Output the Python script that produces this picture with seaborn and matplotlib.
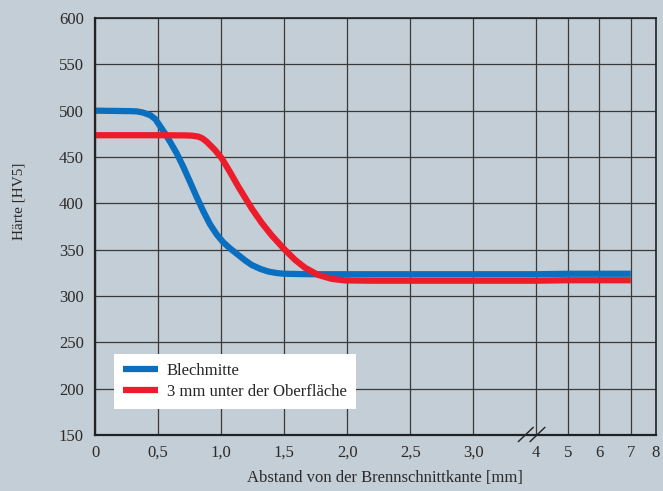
import numpy as np
import pandas as pd
import matplotlib
matplotlib.use("Agg")
import matplotlib.pyplot as plt
import seaborn as sns

# ---- data ----
blue_label = "Blechmitte"
blue_x = [0, 0.28, 0.33, 0.38, 0.44, 0.48, 0.515, 0.555, 0.595, 0.648, 0.70, 0.753,
          0.806, 0.859, 0.912, 0.965, 1.017, 1.07, 1.137, 1.19, 1.243, 1.31, 1.374,
          1.44, 1.5, 1.7, 2.0, 3.0, 4, 5, 6, 7]
blue_y = [500, 499.5, 499.2, 498, 495, 490.7, 483.5, 475.6, 466.5, 454, 439.5, 423.4,
          407, 391.5, 377.5, 366.5, 358, 351.5, 344.2, 338.5, 333.5, 329.3, 326.4,
          324.8, 324, 323.5, 323.5, 323.5, 323.5, 324, 324, 324]

red_label = "3 mm unter der Oberfläche"
red_x = [0, 0.5, 0.72, 0.77, 0.82, 0.853, 0.886, 0.952, 1.005, 1.07, 1.137, 1.2,
         1.243, 1.322, 1.401, 1.5, 1.587, 1.665, 1.771, 1.877, 1.983, 2.2, 3.0,
         4, 5, 6, 7]
red_y = [473.5, 473.5, 473.3, 473, 472, 470, 466.5, 457.5, 448.6, 434, 418, 404,
         394.5, 379, 365.5, 350.7, 339, 330.6, 322.7, 318.5, 316.8, 316.5, 316.5,
         316.5, 317, 317, 317]

x_ticks = [0, 0.5, 1.0, 1.5, 2.0, 2.5, 3.0, 4, 5, 6, 7, 8]
x_ticklabels = ["0", "0,5", "1,0", "1,5", "2,0", "2,5", "3,0", "4", "5", "6", "7", "8"]
y_ticks = [150, 200, 250, 300, 350, 400, 450, 500, 550, 600]

x_title = "Abstand von der Brennschnittkante [mm]"
y_title = "Härte [HV5]"

# broken axis: real mm -> drawing units
brk_real = [0, 3, 4, 7, 8]
brk_unit = [0, 3, 3.5, 4.25, 4.45]

def fwd(v):
    return np.interp(v, brk_real, brk_unit)

def inv(v):
    return np.interp(v, brk_unit, brk_real)

df = pd.concat([
    pd.DataFrame({"x": blue_x, "y": blue_y, "Serie": blue_label}),
    pd.DataFrame({"x": red_x, "y": red_y, "Serie": red_label}),
], ignore_index=True)

sns.set_style("white")
plt.rcParams["font.family"] = ["Liberation Serif", "DejaVu Serif"]

bg = "#c4ced6"
fig = plt.figure(figsize=(6.63, 4.91), dpi=100, facecolor=bg)
ax = fig.add_axes([95 / 663, 56 / 491, 561 / 663, 417 / 491])
ax.set_facecolor(bg)
ax.set_xscale("function", functions=(fwd, inv))

sns.lineplot(data=df, x="x", y="y", hue="Serie", sort=False, estimator=None,
             palette={blue_label: "#0a6fbf", red_label: "#ec1c2a"},
             linewidth=4.5, ax=ax, solid_capstyle="butt", solid_joinstyle="round")

ax.set_xlim(0, 8)
ax.set_ylim(150, 600)
ax.set_xticks(x_ticks)
ax.set_xticklabels(x_ticklabels)
ax.set_yticks(y_ticks)
ax.xaxis.set_minor_locator(matplotlib.ticker.NullLocator())
ax.tick_params(axis="both", length=0, labelsize=12, colors="#2a2a2a")
ax.tick_params(axis="x", pad=7)
ax.tick_params(axis="y", pad=8)
ax.grid(True, color="#3a3a3a", linewidth=0.9)
ax.set_axisbelow(True)
for s in ax.spines.values():
    s.set_visible(True)
    s.set_color("#222222")
    s.set_linewidth(1.2)
ax.spines["left"].set_linewidth(1.6)
ax.spines["bottom"].set_linewidth(1.6)

ax.set_xlabel(x_title, fontsize=12, color="#2a2a2a")
ax.set_ylabel(y_title, fontsize=11, color="#2a2a2a")
ax.xaxis.set_label_coords(0.517, -0.084)
ax.yaxis.set_label_coords(-0.123, 0.56)

# axis break marks
for x0, x1 in [(0.7545, 0.7813), (0.7754, 0.8021)]:
    ax.plot([x0, x1], [-0.016, 0.0185], transform=ax.transAxes, color="#222222",
            linewidth=1.0, clip_on=False)

leg = ax.legend(loc="lower left", bbox_to_anchor=(0.034, 0.062), borderaxespad=0,
                frameon=True, fancybox=False, fontsize=12, handlelength=2.1,
                handletextpad=0.52, borderpad=0.55, labelspacing=0.3, title=None)
leg.get_frame().set_facecolor("white")
leg.get_frame().set_edgecolor("none")
leg.get_frame().set_alpha(1)
for line in leg.get_lines():
    line.set_linewidth(4.5)

fig.savefig("out.png", dpi=100, facecolor=bg)
